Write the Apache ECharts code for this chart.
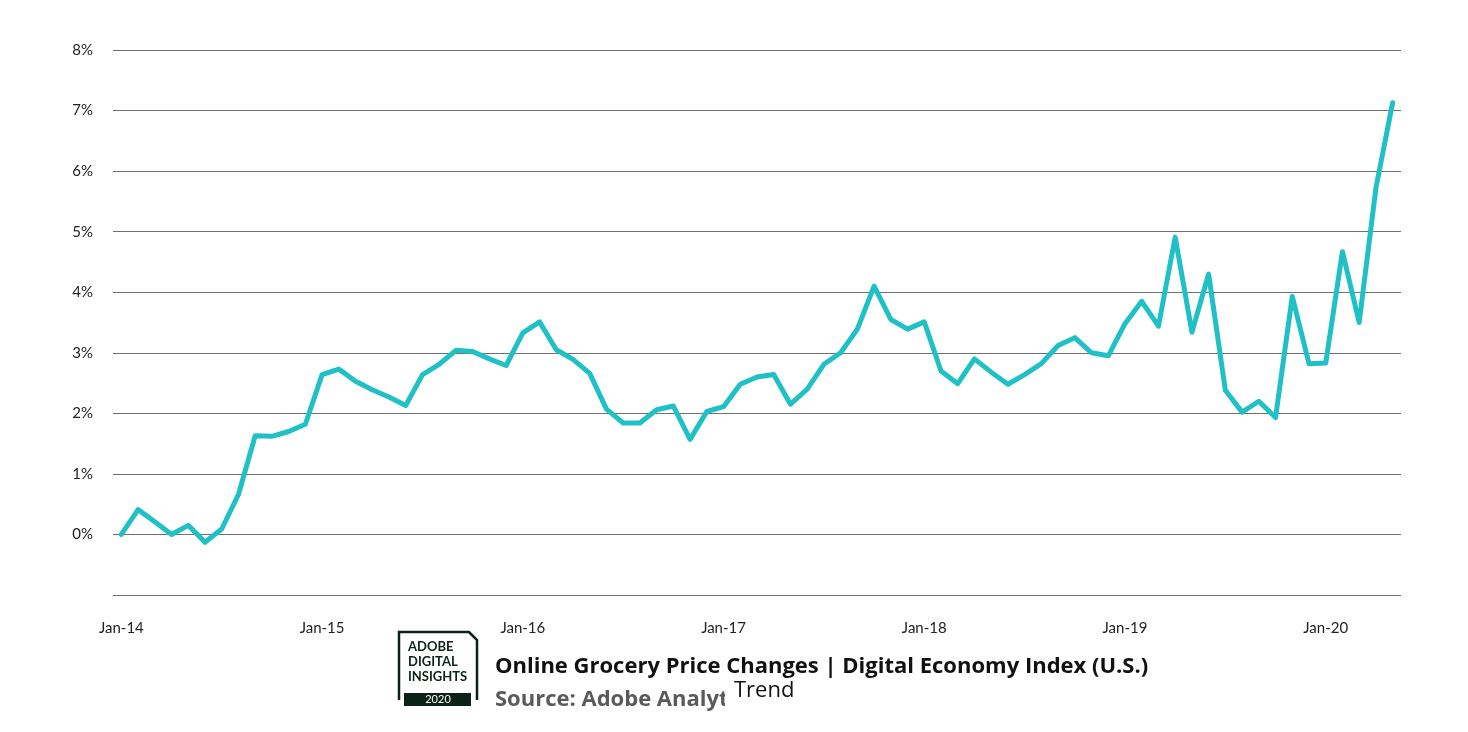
<!DOCTYPE html>
<html>
<head>
<meta charset="utf-8">
<script src="https://cdn.jsdelivr.net/npm/echarts@6/dist/echarts.min.js"></script>
<style>
  html, body { margin: 0; padding: 0; background: #fff; }
  #chart { width: 1468px; height: 732px; }
</style>
</head>
<body>
<div id="chart"></div>
<script>
const months = [
  'Jan-14','Feb-14','Mar-14','Apr-14','May-14','Jun-14','Jul-14','Aug-14','Sep-14','Oct-14','Nov-14','Dec-14',
  'Jan-15','Feb-15','Mar-15','Apr-15','May-15','Jun-15','Jul-15','Aug-15','Sep-15','Oct-15','Nov-15','Dec-15',
  'Jan-16','Feb-16','Mar-16','Apr-16','May-16','Jun-16','Jul-16','Aug-16','Sep-16','Oct-16','Nov-16','Dec-16',
  'Jan-17','Feb-17','Mar-17','Apr-17','May-17','Jun-17','Jul-17','Aug-17','Sep-17','Oct-17','Nov-17','Dec-17',
  'Jan-18','Feb-18','Mar-18','Apr-18','May-18','Jun-18','Jul-18','Aug-18','Sep-18','Oct-18','Nov-18','Dec-18',
  'Jan-19','Feb-19','Mar-19','Apr-19','May-19','Jun-19','Jul-19','Aug-19','Sep-19','Oct-19','Nov-19','Dec-19',
  'Jan-20','Feb-20','Mar-20','Apr-20','May-20'
];

const trendValues = [
  0.00, 0.41, 0.21, 0.00, 0.15, -0.13, 0.09, 0.66, 1.63, 1.62, 1.70, 1.82,
  2.64, 2.73, 2.53, 2.39, 2.27, 2.13, 2.64, 2.81, 3.04, 3.02, 2.90, 2.79,
  3.33, 3.51, 3.05, 2.89, 2.66, 2.07, 1.84, 1.84, 2.06, 2.12, 1.57, 2.03,
  2.11, 2.48, 2.60, 2.64, 2.15, 2.40, 2.81, 3.00, 3.39, 4.10, 3.55, 3.39,
  3.51, 2.70, 2.49, 2.90, 2.68, 2.48, 2.64, 2.82, 3.12, 3.25, 3.00, 2.95,
  3.48, 3.85, 3.44, 4.91, 3.34, 4.30, 2.38, 2.02, 2.20, 1.93, 3.93, 2.82,
  2.83, 4.67, 3.50, 5.72, 7.13
];

const seriesName = 'Trend';
const titleText = 'Online Grocery Price Changes | Digital Economy Index (U.S.)';
const sourceText = 'Source: Adobe Analytics';
const logoLines = ['ADOBE', 'DIGITAL', 'INSIGHTS'];
const logoYear = '2020';

const FONT = 'Lato, "Open Sans", sans-serif';
const TFONT = '"Open Sans", Lato, sans-serif';
const LOGO = '#0b2316';

const chart = echarts.init(document.getElementById('chart'), null, { renderer: 'canvas' });

chart.setOption({
  backgroundColor: '#ffffff',
  animation: false,
  textStyle: { fontFamily: FONT },
  title: [
    {
      text: titleText,
      left: 495, top: 656, padding: 0, z: 2,
      textStyle: { fontFamily: TFONT, fontSize: 22, fontWeight: 'bold', color: '#111' }
    },
    {
      text: sourceText,
      left: 495, top: 689, padding: 0, z: 2,
      textStyle: { fontFamily: TFONT, fontSize: 22, fontWeight: 'bold', color: '#5a5a5a' }
    }
  ],
  legend: {
    data: [{ name: seriesName, icon: 'none' }],
    left: 725, top: 678,
    itemWidth: 0, itemHeight: 14, itemGap: 0,
    padding: [2, 60, 16, 4],
    backgroundColor: '#ffffff',
    z: 10,
    textStyle: { fontFamily: TFONT, fontSize: 22, color: '#111' }
  },
  grid: { left: 113, right: 67, top: 50, bottom: 137, containLabel: false },
  xAxis: {
    type: 'category',
    data: months,
    boundaryGap: true,
    axisLine: { show: false },
    axisTick: { show: false },
    axisLabel: { interval: 11, margin: 26, fontSize: 15, color: '#222', fontFamily: FONT },
    splitLine: { show: false }
  },
  yAxis: {
    type: 'value',
    min: -1, max: 8, interval: 1,
    axisLine: { show: false },
    axisTick: { show: false },
    axisLabel: {
      margin: 20, fontSize: 15, color: '#222', fontFamily: FONT,
      formatter: function (v) { return v < 0 ? '' : v + '%'; }
    },
    splitLine: { show: true, lineStyle: { color: '#707070', width: 1 } }
  },
  series: [{
    name: seriesName,
    type: 'line',
    data: trendValues,
    symbol: 'none',
    smooth: false,
    lineStyle: { color: '#20c0c7', width: 5, join: 'round', cap: 'round' },
    itemStyle: { color: '#20c0c7' }
  }],
  graphic: [
    {
      type: 'polyline', z: 20,
      shape: { points: [[399, 700], [399, 632], [469, 632], [477, 640], [477, 700]] },
      style: { stroke: LOGO, lineWidth: 2.5, fill: null }
    },
    {
      type: 'rect', z: 20,
      shape: { x: 404, y: 693, width: 67, height: 13 },
      style: { fill: LOGO }
    },
    {
      type: 'text', z: 21, left: 408, top: 640,
      style: { text: logoLines[0], font: 'bold 13px ' + FONT, fill: LOGO }
    },
    {
      type: 'text', z: 21, left: 408, top: 655,
      style: { text: logoLines[1], font: 'bold 13px ' + FONT, fill: LOGO }
    },
    {
      type: 'text', z: 21, left: 408, top: 670,
      style: { text: logoLines[2], font: 'bold 13px ' + FONT, fill: LOGO }
    },
    {
      type: 'text', z: 21, x: 438, y: 699.5,
      style: { text: logoYear, font: '11px ' + FONT, fill: '#ffffff', align: 'center', verticalAlign: 'middle' }
    }
  ]
});
</script>
</body>
</html>
